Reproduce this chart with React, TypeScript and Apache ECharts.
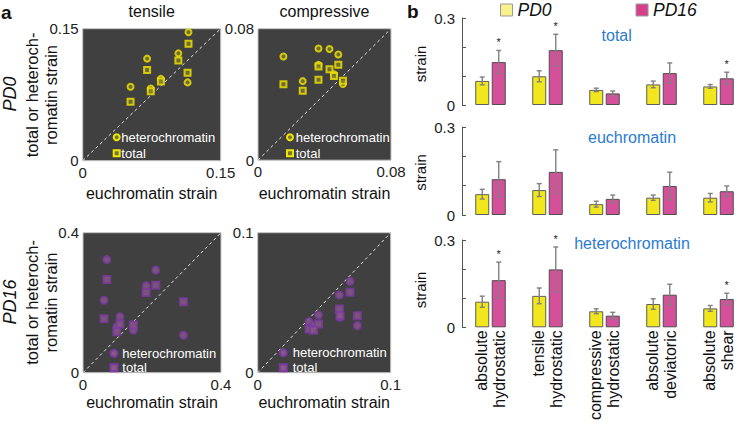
import React, { useEffect, useRef } from 'react';
import * as echarts from 'echarts';

// ---------- panel a : scatter data (x = euchromatin strain) ----------
const pd0TensileEu = [0.115, 0.070, 0.104, 0.085, 0.052, 0.074, 0.114];
const pd0TensileHet = [0.146, 0.116, 0.122, 0.093, 0.084, 0.082, 0.089];
const pd0TensileTot = [0.133, 0.103, 0.114, 0.090, 0.067, 0.079, 0.100];

const pd0CompEu = [0.0153, 0.0269, 0.0364, 0.0364, 0.0430, 0.0457, 0.0483, 0.0511];
const pd0CompHet = [0.0631, 0.0481, 0.0680, 0.0580, 0.0676, 0.0523, 0.0643, 0.0464];
const pd0CompTot = [0.0462, 0.0423, 0.0489, 0.0570, 0.0554, 0.0513, 0.0580, 0.0484];

const pd16TensileEu = [0.069, 0.211, 0.183, 0.291, 0.061, 0.107, 0.146, 0.098];
const pd16TensileHet = [0.323, 0.293, 0.248, 0.107, 0.207, 0.160, 0.122, 0.131];
const pd16TensileTot = [0.266, 0.250, 0.229, 0.203, 0.154, 0.139, 0.136, 0.117];

const pd16CompEu = [0.0694, 0.0614, 0.0619, 0.0749, 0.0457, 0.0386, 0.0420];
const pd16CompHet = [0.0652, 0.0555, 0.0395, 0.0336, 0.0412, 0.0364, 0.0336];
const pd16CompTot = [0.0574, 0.0455, 0.0407, 0.0407, 0.0348, 0.0312, 0.0304];

const scatterMax = [0.15, 0.08, 0.4, 0.1];

// ---------- panel b : bar data ----------
const categories = [
  'absolute\nhydrostatic',
  'tensile\nhydrostatic',
  'compressive\nhydrostatic',
  'absolute\ndeviatoric',
  'absolute\nshear',
];
const totalPD0 = [0.083, 0.099, 0.052, 0.071, 0.064];
const totalPD0Err = [0.0135, 0.019, 0.006, 0.0115, 0.0065];
const totalPD16 = [0.148, 0.189, 0.040, 0.110, 0.092];
const totalPD16Err = [0.040, 0.055, 0.0085, 0.035, 0.021];
const totalStars = [1, 1, 0, 0, 1];

const euPD0 = [0.071, 0.085, 0.037, 0.059, 0.059];
const euPD0Err = [0.0165, 0.022, 0.010, 0.009, 0.0145];
const euPD16 = [0.122, 0.147, 0.055, 0.099, 0.081];
const euPD16Err = [0.060, 0.075, 0.013, 0.047, 0.018];
const euStars = [0, 0, 0, 0, 0];

const hetPD0 = [0.088, 0.108, 0.055, 0.080, 0.065];
const hetPD0Err = [0.019, 0.027, 0.0085, 0.018, 0.010];
const hetPD16 = [0.162, 0.199, 0.040, 0.112, 0.097];
const hetPD16Err = [0.062, 0.077, 0.0115, 0.036, 0.020];
const hetStars = [1, 1, 0, 0, 1];

const FONT = 'Liberation Sans, Arial, sans-serif';

const pd0Style = { color: '#7a7530', borderColor: '#f2e600', borderWidth: 2 };
const pd16Style = { color: '#8a5a82', borderColor: '#7a3aa2', borderWidth: 2 };

const scatterGrids = [
  { left: 82.7, top: 28.7, width: 138, height: 132 },
  { left: 258, top: 28.7, width: 133, height: 131.5 },
  { left: 83, top: 232.7, width: 138, height: 140 },
  { left: 257.7, top: 232.7, width: 133, height: 140 },
];
const barGrids = [
  { left: 462, top: 18, width: 297, height: 87 },
  { left: 462, top: 127, width: 297, height: 88 },
  { left: 462, top: 240, width: 297, height: 87.3 },
];

function buildOption() {
  const grid: any[] = [];
  const xAxis: any[] = [];
  const yAxis: any[] = [];
  const series: any[] = [];
  const graphic: any[] = [];

  const scatterSets = [
    { eu: pd0TensileEu, het: pd0TensileHet, tot: pd0TensileTot, style: pd0Style, size: 6 },
    { eu: pd0CompEu, het: pd0CompHet, tot: pd0CompTot, style: pd0Style, size: 6 },
    { eu: pd16TensileEu, het: pd16TensileHet, tot: pd16TensileTot, style: pd16Style, size: 7 },
    { eu: pd16CompEu, het: pd16CompHet, tot: pd16CompTot, style: pd16Style, size: 7 },
  ];

  scatterGrids.forEach((g, i) => {
    const max = scatterMax[i];
    grid.push({
      ...g,
      show: true,
      backgroundColor: '#404040',
      borderColor: '#c4c4c4',
      borderWidth: 1,
    });
    const axisCommon = {
      type: 'value',
      gridIndex: i,
      min: 0,
      max,
      interval: max,
      axisLine: { show: false },
      axisTick: { show: false },
      splitLine: { show: false },
    };
    xAxis.push({
      ...axisCommon,
      axisLabel: {
        fontSize: 15,
        color: '#222',
        margin: 4,
        showMinLabel: true,
        showMaxLabel: true,
        formatter: (v: number) => (v === 0 ? '0' : String(max)),
      },
    });
    yAxis.push({
      ...axisCommon,
      axisLabel: {
        fontSize: 15,
        color: '#222',
        margin: 4,
        showMinLabel: true,
        showMaxLabel: true,
        formatter: (v: number) => (v === 0 ? '0' : String(max)),
      },
    });
    const s = scatterSets[i];
    series.push({
      type: 'line',
      xAxisIndex: i,
      yAxisIndex: i,
      data: [
        [0, 0],
        [max, max],
      ],
      symbol: 'none',
      silent: true,
      lineStyle: { color: '#e6e6e6', width: 1, type: [3, 3] },
      z: 2,
    });
    series.push({
      type: 'scatter',
      name: 'heterochromatin',
      xAxisIndex: i,
      yAxisIndex: i,
      symbol: 'circle',
      symbolSize: s.size,
      itemStyle: s.style,
      data: s.eu.map((x, k) => [x, s.het[k]]),
      z: 3,
    });
    series.push({
      type: 'scatter',
      name: 'total',
      xAxisIndex: i,
      yAxisIndex: i,
      symbol: 'rect',
      symbolSize: s.size,
      itemStyle: s.style,
      data: s.eu.map((x, k) => [x, s.tot[k]]),
      z: 3,
    });

    // inner legend
    const isPD0 = i < 2;
    const mx = [116.7, 290, 114, 283.3][i];
    const my1 = [137.3, 137.3, 353.3, 352.7][i];
    const my2 = [153.3, 153.3, 367.7, 367.7][i];
    const tx = [121.3, 295.7, 122.3, 292.7][i];
    const st = s.style;
    const half = s.size / 2;
    graphic.push({
      type: 'circle',
      shape: { cx: mx, cy: my1, r: half },
      style: { fill: st.color, stroke: st.borderColor, lineWidth: 2 },
      z: 10,
    });
    graphic.push({
      type: 'rect',
      shape: { x: mx - half, y: my2 - half, width: s.size, height: s.size },
      style: { fill: st.color, stroke: st.borderColor, lineWidth: 2 },
      z: 10,
    });
    graphic.push({
      type: 'text',
      x: tx,
      y: my1,
      style: {
        text: 'heterochromatin',
        fontSize: 13,
        fontFamily: FONT,
        fill: '#ffffff',
        textAlign: 'left',
        align: 'left',
        textVerticalAlign: 'middle',
        verticalAlign: 'middle',
      },
      z: 10,
    });
    graphic.push({
      type: 'text',
      x: tx,
      y: my2,
      style: {
        text: 'total',
        fontSize: 13,
        fontFamily: FONT,
        fill: '#ffffff',
        textAlign: 'left',
        align: 'left',
        textVerticalAlign: 'middle',
        verticalAlign: 'middle',
      },
      z: 10,
    });
    // x axis name
    graphic.push({
      type: 'text',
      x: g.left + g.width / 2,
      y: isPD0 ? 193 : 402,
      style: {
        text: 'euchromatin strain',
        fontSize: 16,
        fontFamily: FONT,
        fill: '#111',
        textAlign: 'center',
        align: 'center',
        textVerticalAlign: 'middle',
        verticalAlign: 'middle',
      },
    });
  });

  // bar panels
  const barSets = [
    { a: totalPD0, ae: totalPD0Err, b: totalPD16, be: totalPD16Err, stars: totalStars },
    { a: euPD0, ae: euPD0Err, b: euPD16, be: euPD16Err, stars: euStars },
    { a: hetPD0, ae: hetPD0Err, b: hetPD16, be: hetPD16Err, stars: hetStars },
  ];
  const barWidth = 14;
  const barGapFrac = 0.18;
  const off = (barWidth + barWidth * barGapFrac) / 2;

  const errSeries = (gi: number, vals: number[], errs: number[], stars: number[] | null, offset: number) => ({
    type: 'custom',
    xAxisIndex: gi,
    yAxisIndex: gi,
    z: 5,
    silent: true,
    data: vals.map((v, k) => [k, v - errs[k], v + errs[k], stars ? stars[k] : 0]),
    renderItem: (params: any, api: any) => {
      const lo = api.coord([api.value(0), api.value(1)]);
      const hi = api.coord([api.value(0), api.value(2)]);
      const x = lo[0] + offset;
      const cap = 2.5;
      const ls = { stroke: '#808080', lineWidth: 1.4 };
      const children: any[] = [
        { type: 'line', shape: { x1: x, y1: lo[1], x2: x, y2: hi[1] }, style: ls },
        { type: 'line', shape: { x1: x - cap, y1: lo[1], x2: x + cap, y2: lo[1] }, style: ls },
        { type: 'line', shape: { x1: x - cap, y1: hi[1], x2: x + cap, y2: hi[1] }, style: ls },
      ];
      if (api.value(3)) {
        children.push({
          type: 'text',
          style: {
            text: '*',
            x,
            y: hi[1] - 8,
            align: 'center',
            verticalAlign: 'middle',
            fontSize: 11,
            fontFamily: FONT,
            fill: '#222',
          },
        });
      }
      return { type: 'group', children };
    },
  });

  barGrids.forEach((g, j) => {
    const gi = 4 + j;
    grid.push({ ...g, show: false });
    xAxis.push({
      type: 'category',
      gridIndex: gi,
      data: categories,
      axisLine: { show: false },
      axisTick: { show: false },
      axisLabel:
        j === 2
          ? { show: true, interval: 0, rotate: 90, fontSize: 16, lineHeight: 18, margin: 3, color: '#111' }
          : { show: false },
    });
    yAxis.push({
      type: 'value',
      gridIndex: gi,
      min: 0,
      max: 0.3,
      interval: 0.1,
      axisLine: { show: true, lineStyle: { color: '#555', width: 1 } },
      axisTick: { show: true, inside: true, length: 4, lineStyle: { color: '#555' } },
      splitLine: { show: false },
      axisLabel: {
        fontSize: 15,
        color: '#222',
        margin: 7,
        showMinLabel: true,
        showMaxLabel: true,
        formatter: (v: number) => (Math.abs(v) < 1e-9 ? '0' : Math.abs(v - 0.3) < 1e-6 ? '0.3' : ''),
      },
    });
    const s = barSets[j];
    series.push({
      type: 'bar',
      name: 'PD0',
      xAxisIndex: gi,
      yAxisIndex: gi,
      data: s.a,
      barWidth,
      barGap: barGapFrac * 100 + '%',
      itemStyle: { color: '#f2e71c', borderColor: '#5e5e5e', borderWidth: 1 },
    });
    series.push({
      type: 'bar',
      name: 'PD16',
      xAxisIndex: gi,
      yAxisIndex: gi,
      data: s.b,
      barWidth,
      barGap: barGapFrac * 100 + '%',
      itemStyle: { color: '#d5509b', borderColor: '#4e4e4e', borderWidth: 1 },
    });
    series.push(errSeries(gi, s.a, s.ae, null, -off));
    series.push(errSeries(gi, s.b, s.be, s.stars, off));
  });

  const txt = (text: string, x: number, y: number, opts: any = {}, rotation = 0) => ({
    type: 'text',
    x,
    y,
    rotation,
    style: {
      text,
      fontSize: 16,
      fontFamily: FONT,
      fill: '#111',
      textAlign: 'center',
      align: 'center',
      textVerticalAlign: 'middle',
      verticalAlign: 'middle',
      ...opts,
    },
  });

  graphic.push(txt('a', 1, 12, { fontSize: 19, fontWeight: 'bold', textAlign: 'left', align: 'left' }));
  graphic.push(txt('b', 407, 11, { fontSize: 19, fontWeight: 'bold', textAlign: 'left', align: 'left' }));
  graphic.push(txt('tensile', 151.7, 11));
  graphic.push(txt('compressive', 324.5, 11));
  graphic.push(txt('PD0', 9.5, 94, { fontSize: 18, fontStyle: 'italic' }, Math.PI / 2));
  graphic.push(txt('PD16', 9.5, 302, { fontSize: 18, fontStyle: 'italic' }, Math.PI / 2));
  graphic.push(txt('total or heteroch-\nromatin strain', 41.5, 95, { fontSize: 16.5, lineHeight: 19 }, Math.PI / 2));
  graphic.push(txt('total or heteroch-\nromatin strain', 41.5, 302.5, { fontSize: 16.5, lineHeight: 19 }, Math.PI / 2));
  graphic.push(txt('strain', 420, 64, { fontSize: 15 }, Math.PI / 2));
  graphic.push(txt('strain', 420, 172.5, { fontSize: 15 }, Math.PI / 2));
  graphic.push(txt('strain', 420, 290, { fontSize: 15 }, Math.PI / 2));
  const blue = '#2a7bcf';
  graphic.push(txt('total', 616.7, 35, { fill: blue }));
  graphic.push(txt('euchromatin', 632, 137.5, { fill: blue }));
  graphic.push(txt('heterochromatin', 632, 243.5, { fill: blue }));

  return {
    animation: false,
    backgroundColor: '#ffffff',
    textStyle: { fontFamily: FONT },
    grid,
    xAxis,
    yAxis,
    legend: {
      left: 500,
      top: 1,
      padding: 0,
      itemWidth: 12,
      itemHeight: 12,
      itemGap: 84,
      icon: 'rect',
      selectedMode: false,
      textStyle: { fontSize: 17.5, fontStyle: 'italic', color: '#111', fontFamily: FONT },
      data: [
        { name: 'PD0', itemStyle: { color: '#f8f18c', borderColor: '#9a9a9a', borderWidth: 1 } },
        { name: 'PD16', itemStyle: { color: '#d6408b', borderColor: '#9a9a9a', borderWidth: 1 } },
      ],
    },
    series,
    graphic,
  };
}

export default function App() {
  const ref = useRef<HTMLDivElement>(null);
  useEffect(() => {
    document.body.style.margin = '0';
    const chart = echarts.init(ref.current!, null, { renderer: 'svg' });
    chart.setOption(buildOption() as any);
    return () => chart.dispose();
  }, []);
  return (
    <div
      ref={ref}
      style={{ position: 'fixed', left: 0, top: 0, width: 747, height: 424, overflow: 'hidden' }}
    />
  );
}
